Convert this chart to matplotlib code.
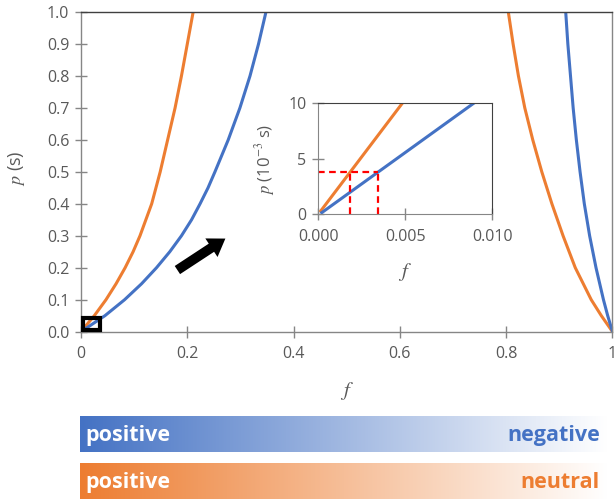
import numpy as np
import matplotlib
matplotlib.use("Agg")
import matplotlib.pyplot as plt
from matplotlib.patches import Rectangle, FancyArrowPatch
from matplotlib.colors import LinearSegmentedColormap

plt.rcParams['font.family'] = ['Open Sans', 'DejaVu Sans']
plt.rcParams['mathtext.fontset'] = 'stix'

# ---- data ----
# left branches (p in s, f fraction)
p_left = [0, 0.01, 0.05, 0.1, 0.15, 0.2, 0.25, 0.3, 0.35, 0.4, 0.45, 0.5,
          0.6, 0.7, 0.8, 0.9, 1.0]
f_pos_neg_left = [0, 0.009, 0.045, 0.082, 0.114, 0.142, 0.167, 0.189, 0.208, 0.224,
                  0.239, 0.252, 0.277, 0.299, 0.318, 0.334, 0.348]
f_pos_neu_left = [0, 0.0048, 0.025, 0.047, 0.066, 0.083, 0.098, 0.111, 0.122, 0.133,
                  0.141, 0.149, 0.163, 0.177, 0.189, 0.200, 0.211]

# right branches
p_right = [1.0, 0.9, 0.8, 0.7, 0.6, 0.5, 0.4, 0.3, 0.2, 0.1, 0.05, 0.0]
f_pos_neg_right = [0.912, 0.916, 0.921, 0.926, 0.932, 0.939, 0.947, 0.957, 0.969, 0.983,
                   0.991, 1.0]
f_pos_neu_right = [0.804, 0.813, 0.823, 0.835, 0.850, 0.867, 0.886, 0.907, 0.930, 0.960,
                   0.979, 1.0]

# inset (p in 1e-3 s)
f_in_neg = [0.0002, 0.00897]
p_in_neg = [0.15, 10]
f_in_neu = [0.00014, 0.00485]
p_in_neu = [0.3, 10]
p_mark = 3.76
f_mark = [0.00182, 0.00345]

blue = "#4472C4"
orange = "#ED7D31"
grey = "#868686"
txt = "#595959"

fig = plt.figure(figsize=(6.16, 4.99), dpi=100)

# ================= main axes =================
ax = fig.add_axes([0.1315, 0.3353, 0.8628, 0.6407])
kw = dict(lw=2.2, solid_capstyle="round", solid_joinstyle="round")
ax.plot(f_pos_neu_left, p_left, color=orange, **kw)
ax.plot(f_pos_neu_right, p_right, color=orange, **kw)
ax.plot(f_pos_neg_left, p_left, color=blue, **kw)
ax.plot(f_pos_neg_right, p_right, color=blue, **kw)
ax.set_xlim(0, 1)
ax.set_ylim(0, 1)
ax.set_xticks([0, 0.2, 0.4, 0.6, 0.8, 1.0])
ax.set_xticklabels(["0", "0.2", "0.4", "0.6", "0.8", "1"])
ax.set_yticks(np.arange(0, 1.01, 0.1))
ax.set_yticklabels([f"{v:.1f}" for v in np.arange(0, 1.01, 0.1)])
ax.tick_params(direction="inout", length=9, width=1, color=grey, labelcolor=txt,
               labelsize=11.5)
ax.tick_params(axis="y", pad=4)
ax.tick_params(axis="x", pad=6)
for s in ["left", "bottom", "right"]:
    ax.spines[s].set_color(grey)
    ax.spines[s].set_linewidth(1)
ax.spines["top"].set_color("#404040")
ax.spines["top"].set_linewidth(1)

ax.set_xlabel("$f$", fontsize=15, color=txt)
ax.xaxis.set_label_coords(0.5, -0.15)
ax.set_ylabel("$p$ (s)", fontsize=13, color=txt)
ax.yaxis.set_label_coords(-0.102, 0.512)

# box around origin
ax.add_patch(Rectangle((0.003, 0.005), 0.033, 0.037, fill=False, ec="black",
                       lw=3, clip_on=False, zorder=5))
# black arrow
arr = FancyArrowPatch((0.177, 0.188), (0.276, 0.296),
                      arrowstyle="simple,head_length=1.2,head_width=1.6,tail_width=0.7",
                      mutation_scale=10, color="black", lw=0)
ax.add_patch(arr)

# ================= inset =================
ins = fig.add_axes([0.5167, 0.5705, 0.2825, 0.2236])
ins.plot(f_in_neu, p_in_neu, color=orange, lw=2.2)
ins.plot(f_in_neg, p_in_neg, color=blue, lw=2.2)
ins.plot([0, f_mark[1]], [p_mark, p_mark], color="red", lw=1.6, ls=(0, (3, 2)))
for fm in f_mark:
    ins.plot([fm, fm], [0, p_mark], color="red", lw=1.6, ls=(0, (3, 2)))
ins.set_xlim(0, 0.010)
ins.set_ylim(0, 10)
ins.set_xticks([0, 0.005, 0.010])
ins.set_xticklabels(["0.000", "0.005", "0.010"])
ins.set_yticks([0, 5, 10])
ins.tick_params(direction="inout", length=9, width=1, color=grey, labelcolor=txt,
                labelsize=11.5)
ins.tick_params(axis="y", pad=4)
ins.tick_params(axis="x", pad=6)
for s in ["left", "bottom"]:
    ins.spines[s].set_color(grey)
for s in ["top", "right"]:
    ins.spines[s].set_color("#404040")
ins.set_xlabel("$f$", fontsize=15, color=txt)
ins.xaxis.set_label_coords(0.5, -0.42)
ins.set_ylabel("$p$ (10$^{-3}$ s)", fontsize=12, color=txt)
ins.yaxis.set_label_coords(-0.237, 0.495)

# ================= gradient bars =================
grad = np.linspace(0, 1, 256).reshape(1, -1)
cm_blue = LinearSegmentedColormap.from_list("b", [blue, "white"])
cm_orange = LinearSegmentedColormap.from_list("o", [orange, "white"])

bar1 = fig.add_axes([80 / 616, (499 - 451.7) / 499, 528 / 616, 36 / 499])
bar1.imshow(grad, aspect="auto", cmap=cm_blue, extent=[0, 1, 0, 1])
bar1.axis("off")
bar1.text(0.01, 0.45, "positive", color="white", fontweight="bold", fontsize=15.5,
          va="center", ha="left", transform=bar1.transAxes)
bar1.text(0.985, 0.45, "negative", color=blue, fontweight="bold", fontsize=15.5,
          va="center", ha="right", transform=bar1.transAxes)

bar2 = fig.add_axes([80 / 616, 0, 528 / 616, 35.7 / 499])
bar2.imshow(grad, aspect="auto", cmap=cm_orange, extent=[0, 1, 0, 1])
bar2.axis("off")
bar2.text(0.01, 0.45, "positive", color="white", fontweight="bold", fontsize=15.5,
          va="center", ha="left", transform=bar2.transAxes)
bar2.text(0.985, 0.45, "neutral", color=orange, fontweight="bold", fontsize=15.5,
          va="center", ha="right", transform=bar2.transAxes)

fig.savefig("out.png", dpi=100)
